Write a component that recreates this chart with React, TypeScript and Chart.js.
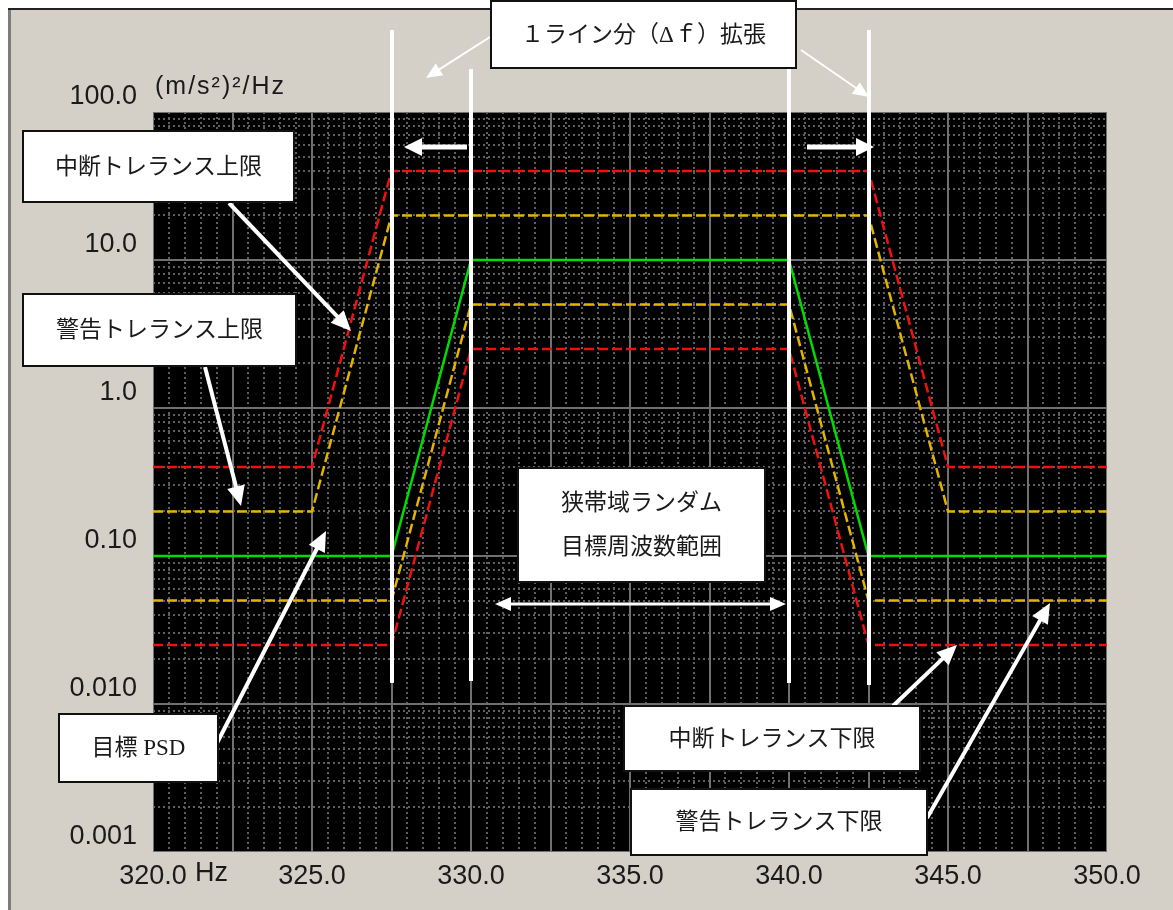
import React, { useEffect, useRef } from "react";
import { Chart, registerables } from "chart.js";

Chart.register(...registerables);

// ---------- data ----------
const frequencies = [320, 325, 327.5, 330, 340, 342.5, 345, 350];
const targetPsd = [0.1, 0.1, 0.1, 10, 10, 0.1, 0.1, 0.1];
const warningUpper = [0.2, 0.2, 20, 20, 20, 20, 0.2, 0.2];
const warningLower = [0.05, 0.05, 0.05, 5, 5, 0.05, 0.05, 0.05];
const abortUpper = [0.4, 0.4, 40, 40, 40, 40, 0.4, 0.4];
const abortLower = [0.025, 0.025, 0.025, 2.5, 2.5, 0.025, 0.025, 0.025];

const xTickValues = [320, 325, 330, 335, 340, 345, 350];
const xTickLabels = ["320.0", "325.0", "330.0", "335.0", "340.0", "345.0", "350.0"];
const yTickValues = [0.001, 0.01, 0.1, 1, 10, 100];
const yTickLabels = ["0.001", "0.010", "0.10", "1.0", "10.0", "100.0"];

// Δf-extended edges and target band edges (Hz)
const bandEdges = [327.5, 330, 340, 342.5];

// ---------- annotation layout (page pixels) ----------
const bandLineExtents = [
  [30, 683],
  [69, 681],
  [69, 683],
  [30, 685],
];

const boxes = [
  { x: 22, y: 130, w: 273, h: 73, lines: ["中断トレランス上限"] },
  { x: 22, y: 293, w: 275, h: 74, lines: ["警告トレランス上限"] },
  { x: 490, y: 0, w: 307, h: 69, lines: ["１ライン分（Δｆ）拡張"] },
  { x: 517, y: 467, w: 249, h: 116, lines: ["狭帯域ランダム", "目標周波数範囲"] },
  { x: 58, y: 713, w: 161, h: 70, lines: ["目標 PSD"] },
  { x: 623, y: 705, w: 298, h: 67, lines: ["中断トレランス下限"] },
  { x: 630, y: 788, w: 298, h: 68, lines: ["警告トレランス下限"] },
];

const arrows = [
  { from: [490, 37], to: [426, 78], w: 2, head: 16, half: 7, both: false },
  { from: [801, 50], to: [869, 97], w: 2, head: 16, half: 7, both: false },
  { from: [467, 147], to: [404, 147], w: 5, head: 18, half: 9, both: false },
  { from: [807, 147], to: [874, 147], w: 5, head: 18, half: 9, both: false },
  { from: [229, 203], to: [351, 331], w: 4, head: 20, half: 9, both: false },
  { from: [205, 367], to: [241, 506], w: 4, head: 20, half: 9, both: false },
  { from: [216, 745], to: [326, 531], w: 4, head: 20, half: 9, both: false },
  { from: [893, 706], to: [957, 645], w: 4, head: 20, half: 9, both: false },
  { from: [927, 818], to: [1050, 603], w: 4, head: 20, half: 9, both: false },
  { from: [495, 604], to: [786, 604], w: 3, head: 16, half: 7, both: true },
];

const RED = "#f01010";
const YELLOW = "#e2b400";
const GREEN = "#00dc00";
const PANEL = "#d4d0c8";
const TICK_FONT = "'Liberation Sans', Arial, sans-serif";
const NOTE_FONT = "23px 'Liberation Serif', 'Noto Sans CJK JP', serif";

const series = (vals: number[]) => frequencies.map((f, i) => ({ x: f, y: vals[i] }));

const isDecade = (v: number) => Math.abs(Math.log10(v) - Math.round(Math.log10(v))) < 1e-9;
const isMajorX = (v: number) => Math.abs(v / 2.5 - Math.round(v / 2.5)) < 1e-9;

function drawArrow(ctx: CanvasRenderingContext2D, a: any) {
  const [x1, y1] = a.from;
  const [x2, y2] = a.to;
  const ang = Math.atan2(y2 - y1, x2 - x1);
  const ux = Math.cos(ang), uy = Math.sin(ang);
  const head = (tx: number, ty: number, dx: number, dy: number) => {
    const bx = tx - dx * a.head, by = ty - dy * a.head;
    ctx.beginPath();
    ctx.moveTo(tx, ty);
    ctx.lineTo(bx - dy * a.half, by + dx * a.half);
    ctx.lineTo(bx + dy * a.half, by - dx * a.half);
    ctx.closePath();
    ctx.fill();
  };
  ctx.lineWidth = a.w;
  ctx.beginPath();
  const sx = a.both ? x1 + ux * (a.head - 2) : x1;
  const sy = a.both ? y1 + uy * (a.head - 2) : y1;
  ctx.moveTo(sx, sy);
  ctx.lineTo(x2 - ux * (a.head - 2), y2 - uy * (a.head - 2));
  ctx.stroke();
  head(x2, y2, ux, uy);
  if (a.both) head(x1, y1, -ux, -uy);
}

const backgroundPlugin = {
  id: "panelBackground",
  beforeDraw(chart: any) {
    const { ctx, width, height, chartArea: a } = chart;
    ctx.save();
    ctx.fillStyle = "#ffffff";
    ctx.fillRect(0, 0, width, height);
    ctx.fillStyle = PANEL;
    ctx.fillRect(8, 8, width - 8, height - 8);
    ctx.fillStyle = "#222222";
    ctx.fillRect(8, 8, width - 8, 2);
    ctx.fillStyle = "#7c7c7c";
    ctx.fillRect(8, 10, 3, height - 10);
    ctx.fillStyle = "#000000";
    ctx.fillRect(a.left, a.top, a.right - a.left, a.bottom - a.top);
    ctx.restore();
  },
  beforeDatasetsDraw(chart: any) {
    const { ctx, chartArea: a, scales } = chart;
    const xs = scales.x, ys = scales.y;
    ctx.save();
    ctx.beginPath();
    ctx.rect(a.left, a.top, a.right - a.left, a.bottom - a.top);
    ctx.clip();
    // minor dotted grid
    ctx.setLineDash([2, 3]);
    ctx.lineWidth = 2;
    ctx.strokeStyle = "#5f5f5f";
    xs.ticks.forEach((t: any) => {
      if (isMajorX(t.value)) return;
      const px = Math.round(xs.getPixelForValue(t.value));
      ctx.beginPath();
      ctx.moveTo(px, a.top);
      ctx.lineTo(px, a.bottom);
      ctx.stroke();
    });
    ys.ticks.forEach((t: any) => {
      if (isDecade(t.value)) return;
      const py = Math.round(ys.getPixelForValue(t.value));
      ctx.beginPath();
      ctx.moveTo(a.left, py);
      ctx.lineTo(a.right, py);
      ctx.stroke();
    });
    // major solid grid
    ctx.setLineDash([]);
    ctx.strokeStyle = "#707070";
    xs.ticks.forEach((t: any) => {
      if (!isMajorX(t.value)) return;
      const px = Math.round(xs.getPixelForValue(t.value));
      ctx.beginPath();
      ctx.moveTo(px, a.top);
      ctx.lineTo(px, a.bottom);
      ctx.stroke();
    });
    ys.ticks.forEach((t: any) => {
      if (!isDecade(t.value)) return;
      const py = Math.round(ys.getPixelForValue(t.value));
      ctx.beginPath();
      ctx.moveTo(a.left, py);
      ctx.lineTo(a.right, py);
      ctx.stroke();
    });
    ctx.restore();
  },
  afterDraw(chart: any) {
    const { ctx, chartArea: a, scales } = chart;
    const xs = scales.x;
    ctx.save();
    // unit label and Hz
    ctx.fillStyle = "#1a1a1a";
    ctx.textBaseline = "middle";
    ctx.textAlign = "left";
    ctx.font = `25px ${TICK_FONT}`;
    (ctx as any).letterSpacing = "2px";
    ctx.fillText("(m/s²)²/Hz", a.left + 2, a.top - 25);
    (ctx as any).letterSpacing = "0px";
    ctx.font = `27px ${TICK_FONT}`;
    ctx.fillText("Hz", xs.getPixelForValue(xTickValues[0]) + 42, a.bottom + 22);

    // white band lines
    ctx.fillStyle = "#ffffff";
    bandEdges.forEach((f, i) => {
      const px = xs.getPixelForValue(f);
      const [t, b] = bandLineExtents[i];
      ctx.fillRect(Math.round(px) - 2, t, 4, b - t);
    });

    // arrows
    ctx.strokeStyle = "#ffffff";
    ctx.fillStyle = "#ffffff";
    arrows.forEach((ar) => drawArrow(ctx, ar));

    // boxes
    boxes.forEach((bx) => {
      ctx.fillStyle = "#ffffff";
      ctx.fillRect(bx.x, bx.y, bx.w, bx.h);
      ctx.strokeStyle = "#111111";
      ctx.lineWidth = 2;
      ctx.strokeRect(bx.x + 1, bx.y + 1, bx.w - 2, bx.h - 2);
      ctx.fillStyle = "#1a1a1a";
      ctx.font = NOTE_FONT;
      ctx.textAlign = "center";
      ctx.textBaseline = "middle";
      const cx = bx.x + bx.w / 2;
      const cy = bx.y + bx.h / 2;
      const gap = 44;
      const n = bx.lines.length;
      bx.lines.forEach((ln, k) => {
        ctx.fillText(ln, cx, cy + (k - (n - 1) / 2) * gap + 1);
      });
    });
    ctx.restore();
  },
};

export default function App() {
  const ref = useRef<HTMLCanvasElement | null>(null);

  useEffect(() => {
    document.body.style.margin = "0";
    document.body.style.overflow = "hidden";
    const canvas = ref.current;
    if (!canvas) return;
    const lineDs = (label: string, vals: number[], color: string, dashed: boolean) => ({
      label,
      data: series(vals),
      borderColor: color,
      backgroundColor: color,
      borderWidth: 2.5,
      borderDash: dashed ? [10, 4] : [],
      pointRadius: 0,
      tension: 0,
      fill: false,
    });
    const chart = new Chart(canvas, {
      type: "line",
      data: {
        datasets: [
          lineDs("中断トレランス上限", abortUpper, RED, true),
          lineDs("中断トレランス下限", abortLower, RED, true),
          lineDs("警告トレランス上限", warningUpper, YELLOW, true),
          lineDs("警告トレランス下限", warningLower, YELLOW, true),
          lineDs("目標 PSD", targetPsd, GREEN, false),
        ],
      },
      options: {
        responsive: false,
        maintainAspectRatio: false,
        animation: false,
        parsing: true,
        layout: { padding: { left: 0, right: 66, top: 112, bottom: 0 } },
        plugins: {
          legend: { display: false },
          tooltip: { enabled: false },
        },
        scales: {
          x: {
            type: "linear",
            min: xTickValues[0],
            max: xTickValues[xTickValues.length - 1],
            grid: { display: false, drawTicks: false },
            border: { display: false },
            afterBuildTicks: (s: any) => {
              const t = [];
              for (let v = s.min; v <= s.max + 1e-9; v += 0.5) t.push({ value: v });
              s.ticks = t;
            },
            afterFit: (s: any) => {
              s.height = 58;
            },
            ticks: {
              autoSkip: false,
              maxRotation: 0,
              minRotation: 0,
              padding: 8,
              color: "#1a1a1a",
              font: { family: TICK_FONT, size: 27 },
              callback: (v: any) => {
                const i = xTickValues.findIndex((t) => Math.abs(t - Number(v)) < 1e-9);
                return i >= 0 ? xTickLabels[i] : "";
              },
            },
          },
          y: {
            type: "logarithmic",
            min: yTickValues[0],
            max: yTickValues[yTickValues.length - 1],
            grid: { display: false, drawTicks: false },
            border: { display: false },
            afterBuildTicks: (s: any) => {
              const t = [];
              for (let e = -3; e <= 1; e++) {
                for (let m = 1; m <= 9; m++) t.push({ value: m * Math.pow(10, e) });
              }
              t.push({ value: 100 });
              s.ticks = t;
            },
            afterFit: (s: any) => {
              s.width = 153;
            },
            ticks: {
              autoSkip: false,
              padding: 16,
              labelOffset: -15,
              color: "#1a1a1a",
              font: { family: TICK_FONT, size: 27 },
              callback: (v: any) => {
                const n = Number(v);
                const i = yTickValues.findIndex((t) => Math.abs(t - n) / t < 1e-6);
                return i >= 0 ? yTickLabels[i] : "";
              },
            },
          },
        },
      } as any,
      plugins: [backgroundPlugin],
    });
    return () => chart.destroy();
  }, []);

  return (
    <div style={{ position: "fixed", left: 0, top: 0, width: 1173, height: 910, background: "#fff" }}>
      <canvas ref={ref} width={1173} height={910} style={{ display: "block", width: 1173, height: 910 }} />
    </div>
  );
}
